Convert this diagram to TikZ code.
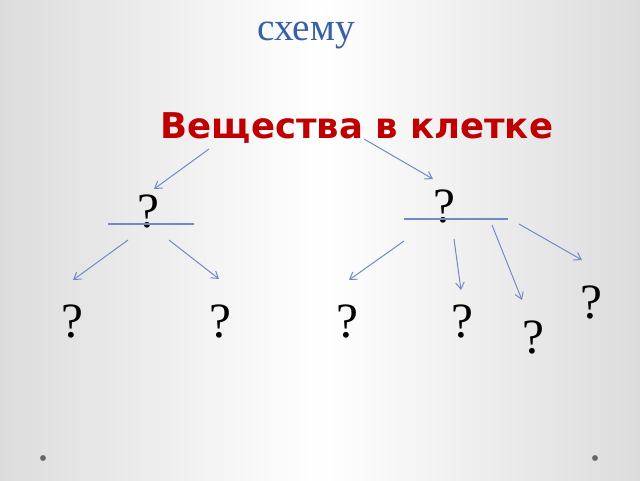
\documentclass[tikz,border=0pt]{standalone}
\usepackage{fontspec}
\setmainfont{Liberation Serif}
\newfontfamily\headfont{DejaVu Sans}
\usetikzlibrary{arrows.meta}
\definecolor{titleblue}{RGB}{55,96,168}
\definecolor{headred}{RGB}{192,0,0}
\definecolor{arrblue}{RGB}{112,138,200}
\definecolor{edgegray}{RGB}{220,220,220}
\begin{document}
\begin{tikzpicture}[x=0.75pt,y=-0.75pt,
  qmark/.style={anchor=base, inner sep=0pt, font=\fontsize{37}{42}\selectfont},
  arr/.style={draw=arrblue, line width=0.75pt, -{Straight Barb[length=5pt,width=6.5pt]}},
  uline/.style={draw=arrblue, line width=1pt}]
\useasboundingbox (0,0) rectangle (640,480);
\shade[left color=edgegray, right color=edgegray, middle color=white] (0,0) rectangle (640,480);
\fill[gray!80!black] (43,458) circle (2.2pt);
\fill[gray!80!black] (595,458) circle (2.2pt);

\node[anchor=base, inner sep=0pt, text=titleblue, font=\fontsize{29.5}{32}\selectfont] (title) at (306,40) {схему};
\node[anchor=base, inner sep=0pt, text=headred, font=\headfont\bfseries\fontsize{26.6}{30}\selectfont] (head) at (357,138) {Вещества в клетке};

\node[qmark] (q1) at (148,227) {?};
\node[qmark] (q2) at (444,222) {?};
\node[qmark] (q11) at (72,337) {?};
\node[qmark] (q12) at (220,337) {?};
\node[qmark] (q21) at (347,337) {?};
\node[qmark] (q22) at (462,337) {?};
\node[qmark] (q23) at (533,353) {?};
\node[qmark] (q24) at (591,318) {?};

\coordinate (u1a) at (108,224); \coordinate (u1b) at (194,224);
\coordinate (u2a) at (404,219); \coordinate (u2b) at (508,219);
\draw[uline] (u1a) -- (u1b);
\draw[uline] (u2a) -- (u2b);

\coordinate (h1) at (209,149); \coordinate (e1) at (154,189);
\coordinate (h2) at (364,139); \coordinate (e2) at (433,179);
\coordinate (s11) at (128,240); \coordinate (e11) at (73,280);
\coordinate (s12) at (169,240); \coordinate (e12) at (219,279);
\coordinate (s21) at (404,241); \coordinate (e21) at (349,280);
\coordinate (s22) at (454,239); \coordinate (e22) at (461,290);
\coordinate (s23) at (492,225); \coordinate (e23) at (522,300);
\coordinate (s24) at (519,224); \coordinate (e24) at (582,260);
\draw[arr] (h1) -- (e1);
\draw[arr] (h2) -- (e2);
\draw[arr] (s11) -- (e11);
\draw[arr] (s12) -- (e12);
\draw[arr] (s21) -- (e21);
\draw[arr] (s22) -- (e22);
\draw[arr] (s23) -- (e23);
\draw[arr] (s24) -- (e24);
\end{tikzpicture}
\end{document}
